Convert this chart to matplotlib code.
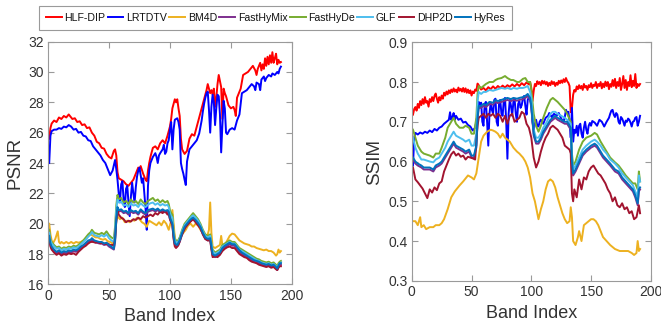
import matplotlib
matplotlib.use("Agg")
import matplotlib.pyplot as plt

plt.rcParams['font.family'] = ['Liberation Sans', 'DejaVu Sans']

methods = ["HLF-DIP", "LRTDTV", "BM4D", "FastHyMix", "FastHyDe", "GLF", "DHP2D", "HyRes"]
colors = ["#FF0000", "#0000FF", "#EDB120", "#7E2F8E", "#77AC30", "#4DBEEE", "#A2142F", "#0072BD"]

# ---------------- PSNR per band ----------------
psnr_hlfdip_band = [1, 2, 3, 5, 7, 9, 11, 13, 15, 17, 18, 20, 22, 24, 26, 28, 30, 32, 34, 36, 38, 40, 42, 44, 46, 48,
                    50, 52, 54, 55, 56, 57, 58, 60, 62, 64, 66, 68, 70, 72, 74, 75, 76, 78, 80, 81, 82, 83, 84, 86, 88,
                    90, 92, 94, 96, 98, 100, 101, 102, 103, 104, 105, 106, 107, 108, 109, 110, 112, 114, 116, 118, 120,
                    122, 124, 126, 128, 130, 131, 132, 133, 134, 135, 136, 137, 138, 139, 140, 141, 142, 143, 144, 145,
                    146, 148, 150, 152, 153, 154, 155, 156, 158, 160, 162, 164, 166, 168, 170, 171, 172, 174, 175, 176,
                    177, 178, 179, 180, 181, 182, 183, 184, 185, 186, 187, 188, 189, 190, 191]
psnr_hlfdip = [25.6, 26.3, 26.6, 26.8, 26.7, 27.0, 26.9, 27.1, 27.0, 27.2, 27.1, 26.9, 26.95, 26.7, 26.75, 26.5, 26.55,
               26.3, 26.35, 26.0, 25.8, 25.4, 25.3, 25.0, 24.95, 24.6, 24.4, 24.3, 24.8, 24.9, 24.5, 23.4, 23.0, 22.9,
               22.8, 22.6, 22.5, 22.7, 22.9, 23.3, 23.7, 23.6, 23.8, 23.3, 22.9, 22.8, 23.5, 24.0, 24.4, 25.0, 25.1,
               24.9, 25.3, 25.5, 25.3, 25.8, 26.4, 26.9, 27.6, 27.9, 28.2, 28.0, 28.2, 27.6, 27.1, 25.6, 24.9, 24.6,
               24.8, 25.6, 25.9, 25.8, 26.4, 27.0, 27.6, 28.2, 28.8, 29.2, 28.9, 28.6, 28.8, 28.5, 28.9, 27.7, 28.3,
               29.2, 29.8, 29.4, 29.0, 26.9, 28.9, 28.6, 28.4, 27.8, 27.6, 27.7, 27.5, 27.1, 28.3, 28.5, 28.9, 29.8,
               29.9, 30.0, 30.2, 30.4, 30.1, 29.8, 30.2, 30.6, 30.1, 30.5, 30.2, 30.9, 30.4, 31.0, 30.5, 31.1, 30.6,
               31.3, 30.6, 30.9, 31.2, 30.5, 30.8, 30.6, 30.65]

psnr_lrtdtv_band = [1, 2, 3, 5, 7, 9, 11, 13, 15, 17, 19, 21, 23, 25, 27, 29, 31, 33, 35, 37, 39, 41, 43, 45, 47, 49,
                    51, 53, 55, 56, 57, 58, 59, 60, 61, 62, 63, 64, 65, 66, 67, 68, 69, 70, 71, 72, 73, 74, 75, 76, 77,
                    78, 79, 80, 81, 82, 83, 84, 86, 88, 89, 90, 91, 92, 94, 95, 96, 97, 98, 99, 100, 101, 102, 103, 104,
                    106, 107, 108, 109, 110, 111, 112, 113, 114, 116, 118, 120, 122, 124, 126, 127, 128, 129, 130, 131,
                    132, 133, 134, 135, 136, 137, 138, 139, 140, 141, 142, 143, 144, 145, 146, 147, 149, 151, 153, 155,
                    157, 159, 161, 163, 165, 167, 169, 170, 171, 173, 174, 175, 177, 178, 179, 181, 183, 184, 186, 188,
                    189, 190, 191]
psnr_lrtdtv = [24.0, 25.8, 26.1, 26.2, 26.2, 26.3, 26.25, 26.4, 26.35, 26.5, 26.4, 26.2, 26.25, 26.0, 26.05, 25.8,
               25.75, 25.5, 25.45, 25.1, 24.9, 24.7, 24.5, 24.2, 24.0, 23.6, 23.2, 23.5, 24.2, 23.6, 22.9, 22.0, 21.4,
               22.6, 22.8, 21.6, 21.1, 22.3, 22.5, 21.4, 20.5, 21.8, 22.7, 22.0, 21.4, 22.4, 23.1, 23.5, 23.7, 23.2,
               22.7, 23.0, 22.0, 21.0, 19.6, 22.5, 23.5, 24.0, 24.4, 24.65, 24.4, 24.0, 24.5, 24.65, 24.9, 25.2, 24.6,
               24.75, 25.3, 25.5, 26.2, 26.7, 24.9, 26.2, 26.85, 26.95, 26.7, 26.2, 24.0, 23.6, 23.3, 22.9, 22.55,
               24.1, 24.9, 25.1, 25.3, 25.5, 25.95, 26.8, 27.4, 27.9, 28.3, 28.6, 28.7, 27.5, 26.0, 27.7, 28.5, 28.0,
               26.5, 27.6, 28.5, 28.4, 27.2, 24.7, 26.5, 28.1, 27.6, 26.0, 25.9, 26.2, 26.3, 26.2, 26.8, 27.2, 28.6,
               28.7, 28.8, 29.0, 29.2, 29.05, 28.8, 29.3, 29.2, 28.8, 29.5, 29.7, 29.4, 29.6, 29.8, 29.7, 29.9, 29.8,
               30.0, 29.9, 30.2, 30.35]

psnr_bm4d_band = [1, 2, 3, 4, 6, 8, 9, 10, 11, 13, 15, 17, 19, 21, 23, 25, 27, 29, 31, 33, 35, 37, 39, 41, 43, 45, 47,
                  49, 51, 53, 54, 55, 56, 57, 59, 61, 63, 65, 67, 69, 71, 73, 75, 77, 79, 81, 83, 85, 87, 89, 91, 93,
                  95, 97, 99, 100, 101, 102, 103, 104, 105, 107, 109, 111, 113, 115, 117, 119, 121, 123, 125, 127,
                  129, 131, 132, 133, 134, 135, 137, 139, 141, 142, 143, 145, 147, 149, 151, 153, 155, 157, 159, 161,
                  163, 165, 167, 169, 171, 173, 175, 177, 179, 181, 183, 185, 187, 188, 189, 190, 191]
psnr_bm4d = [20.0, 19.3, 18.9, 18.7, 19.0, 19.5, 18.8, 18.7, 18.8, 18.7, 18.8, 18.7, 18.8, 18.7, 18.8, 18.75, 18.8,
             18.9, 19.0, 19.2, 19.3, 19.2, 19.1, 19.1, 19.0, 18.95, 19.0, 18.85, 18.8, 18.7, 18.8, 19.4, 20.2, 20.5,
             20.3, 20.4, 20.1, 20.2, 20.1, 20.25, 20.2, 20.4, 20.3, 20.1, 20.0, 19.8, 20.2, 20.1, 20.0, 19.9, 20.1,
             19.9, 20.2, 20.0, 19.6, 19.9, 20.2, 20.9, 20.0, 19.1, 18.8, 18.9, 19.2, 19.4, 19.6, 19.9, 20.0, 19.8,
             20.0, 19.9, 19.6, 19.4, 19.2, 19.3, 19.6, 21.4, 19.4, 18.5, 18.4, 18.5, 18.6, 19.2, 18.6, 18.6, 18.9,
             19.2, 19.35, 19.3, 19.1, 18.9, 18.8, 18.7, 18.65, 18.6, 18.5, 18.5, 18.4, 18.35, 18.3, 18.25, 18.3,
             18.2, 18.2, 18.1, 17.9, 18.0, 18.3, 18.1, 18.2]

cluster_band = [1, 2, 3, 5, 7, 9, 11, 13, 15, 17, 19, 21, 23, 25, 27, 29, 31, 33, 35, 36, 38, 40, 42, 44, 46, 48, 50,
                52, 54, 55, 56, 57, 58, 60, 62, 64, 66, 68, 70, 72, 74, 76, 78, 80, 82, 84, 86, 88, 90, 92, 94, 96, 98,
                99, 100, 101, 102, 103, 104, 106, 108, 110, 112, 114, 116, 118, 119, 121, 123, 125, 127, 129, 131, 133,
                134, 135, 137, 139, 141, 143, 145, 147, 149, 151, 153, 155, 157, 159, 161, 163, 165, 167, 169, 171,
                173, 175, 177, 179, 181, 183, 185, 187, 188, 189, 190, 191]
psnr_fasthyde = [19.6, 19.0, 18.8, 18.6, 18.45, 18.5, 18.35, 18.45, 18.4, 18.5, 18.45, 18.55, 18.5, 18.6, 18.75, 18.9,
                 19.1, 19.3, 19.45, 19.6, 19.4, 19.35, 19.3, 19.4, 19.3, 19.5, 19.25, 19.1, 19.0, 19.8, 21.2, 21.9,
                 21.6, 21.7, 21.4, 21.5, 21.3, 21.6, 21.4, 21.5, 21.3, 21.6, 21.4, 21.3, 21.5, 21.6, 21.7, 21.5, 21.6,
                 21.4, 21.55, 21.4, 21.5, 21.3, 20.9, 20.7, 20.6, 19.6, 19.0, 18.8, 19.1, 19.6, 20.0, 20.2, 20.4, 20.6,
                 20.7, 20.5, 20.3, 20.0, 19.6, 19.3, 19.2, 19.3, 18.8, 18.3, 18.1, 18.2, 18.3, 18.6, 18.7, 18.8, 18.9,
                 18.8, 18.8, 18.6, 18.4, 18.3, 18.2, 18.1, 18.0, 17.9, 17.8, 17.7, 17.65, 17.55, 17.5, 17.45, 17.5,
                 17.4, 17.45, 17.3, 17.2, 17.4, 17.5, 17.55]
psnr_glf = [19.4, 18.9, 18.7, 18.5, 18.35, 18.4, 18.25, 18.35, 18.3, 18.4, 18.35, 18.45, 18.4, 18.5, 18.65, 18.8,
            18.95, 19.15, 19.3, 19.45, 19.25, 19.2, 19.15, 19.25, 19.15, 19.3, 19.05, 18.9, 18.8, 19.5, 20.9, 21.6,
            21.4, 21.45, 21.2, 21.25, 21.1, 21.35, 21.2, 21.25, 21.1, 21.35, 21.2, 21.1, 21.25, 21.35, 21.4, 21.25,
            21.35, 21.2, 21.3, 21.2, 21.25, 21.1, 20.7, 20.5, 20.4, 19.4, 18.9, 18.7, 19.0, 19.5, 19.9, 20.1, 20.3,
            20.5, 20.55, 20.4, 20.2, 19.9, 19.5, 19.2, 19.1, 19.2, 18.7, 18.2, 18.0, 18.1, 18.2, 18.5, 18.6, 18.7,
            18.8, 18.7, 18.7, 18.5, 18.3, 18.2, 18.1, 18.0, 17.9, 17.8, 17.7, 17.6, 17.55, 17.45, 17.4, 17.35, 17.4,
            17.3, 17.35, 17.2, 17.1, 17.3, 17.4, 17.45]
psnr_hyres = [19.2, 18.7, 18.5, 18.3, 18.15, 18.25, 18.1, 18.2, 18.15, 18.25, 18.2, 18.3, 18.25, 18.35, 18.5, 18.6,
              18.75, 18.9, 18.95, 19.05, 18.9, 18.85, 18.8, 18.8, 18.7, 18.75, 18.6, 18.5, 18.35, 18.9, 20.3, 21.1,
              20.9, 20.95, 20.8, 20.85, 20.7, 20.9, 20.8, 20.85, 20.7, 20.95, 20.8, 20.7, 20.9, 20.95, 21.0, 20.9,
              21.0, 20.85, 20.95, 20.85, 20.9, 20.8, 20.4, 20.2, 20.0, 19.2, 18.7, 18.6, 18.9, 19.4, 19.8, 20.0, 20.2,
              20.35, 20.4, 20.25, 20.05, 19.8, 19.4, 19.1, 19.0, 19.05, 18.5, 18.0, 17.9, 18.0, 18.1, 18.4, 18.55,
              18.65, 18.75, 18.65, 18.65, 18.45, 18.25, 18.1, 18.0, 17.9, 17.8, 17.7, 17.6, 17.55, 17.5, 17.4, 17.35,
              17.3, 17.35, 17.25, 17.3, 17.15, 17.05, 17.25, 17.4, 17.4]
psnr_fasthymix = [19.1, 18.6, 18.4, 18.2, 18.05, 18.15, 18.0, 18.1, 18.05, 18.15, 18.1, 18.2, 18.15, 18.25, 18.4,
                  18.5, 18.65, 18.8, 18.85, 18.95, 18.8, 18.75, 18.7, 18.7, 18.6, 18.65, 18.5, 18.4, 18.3, 18.8, 20.2,
                  21.0, 20.8, 20.85, 20.7, 20.75, 20.6, 20.8, 20.7, 20.75, 20.6, 20.85, 20.7, 20.6, 20.8, 20.85, 20.9,
                  20.8, 20.9, 20.75, 20.85, 20.75, 20.8, 20.7, 20.3, 20.1, 19.9, 19.1, 18.6, 18.5, 18.8, 19.3, 19.7,
                  19.9, 20.1, 20.25, 20.3, 20.15, 19.95, 19.7, 19.3, 19.0, 18.9, 18.95, 18.4, 17.9, 17.8, 17.9, 18.0,
                  18.3, 18.45, 18.55, 18.65, 18.55, 18.55, 18.35, 18.15, 18.0, 17.9, 17.8, 17.7, 17.6, 17.5, 17.45,
                  17.4, 17.3, 17.25, 17.2, 17.25, 17.15, 17.2, 17.05, 16.95, 17.15, 17.3, 17.3]

psnr_dhp2d_band = [1, 2, 3, 5, 7, 9, 11, 13, 15, 17, 19, 21, 23, 25, 27, 29, 31, 33, 35, 37, 39, 41, 43, 45, 47, 49, 51,
                   53, 54, 55, 56, 57, 58, 60, 62, 64, 66, 68, 70, 72, 74, 76, 78, 80, 82, 84, 86, 88, 90, 92, 94, 96,
                   98, 99, 100, 101, 102, 103, 104, 105, 107, 109, 111, 113, 115, 117, 119, 121, 123, 125, 127, 129,
                   131, 133, 134, 135, 137, 139, 141, 143, 145, 147, 149, 151, 153, 155, 157, 159, 161, 163, 165, 167,
                   169, 171, 173, 175, 177, 179, 181, 183, 185, 187, 188, 189, 190, 191]
psnr_dhp2d = [19.0, 18.5, 18.3, 18.1, 17.95, 18.05, 17.9, 18.0, 17.95, 18.05, 18.0, 18.05, 17.95, 18.15, 18.3, 18.45,
              18.55, 18.7, 18.8, 18.8, 18.75, 18.8, 18.7, 18.75, 18.65, 18.7, 18.6, 18.6, 18.6, 19.0, 20.2, 20.9, 20.6,
              20.4, 20.3, 20.1, 20.2, 20.15, 20.3, 20.25, 20.4, 20.3, 20.5, 20.4, 20.5, 20.6, 20.5, 20.7, 20.6, 20.8,
              20.7, 20.85, 20.6, 20.7, 20.3, 20.1, 19.9, 19.0, 18.5, 18.4, 18.6, 19.1, 19.5, 19.8, 20.0, 20.15, 20.3,
              20.1, 19.9, 19.7, 19.3, 19.0, 18.9, 18.9, 18.3, 17.8, 17.85, 17.8, 17.95, 18.2, 18.35, 18.45, 18.5, 18.4,
              18.4, 18.2, 18.0, 17.9, 17.8, 17.75, 17.6, 17.5, 17.45, 17.4, 17.3, 17.25, 17.2, 17.15, 17.2, 17.1,
              17.15, 17.0, 16.95, 17.1, 17.2, 17.2]

# ---------------- SSIM per band ----------------
ssim_hlfdip_band = list(range(1, 59)) + list(range(60, 99, 2)) + list(range(99, 192))
ssim_hlfdip = [0.718, 0.732, 0.737, 0.728, 0.745, 0.735, 0.752, 0.742, 0.757, 0.745, 0.762, 0.748, 0.752, 0.738,
               0.757, 0.75, 0.762, 0.752, 0.765, 0.771, 0.758, 0.748, 0.762, 0.754, 0.766, 0.758, 0.773, 0.766, 0.776,
               0.769, 0.779, 0.772, 0.781, 0.775, 0.784, 0.776, 0.781, 0.774, 0.786, 0.778, 0.783, 0.776, 0.785,
               0.775, 0.784, 0.773, 0.781, 0.772, 0.779, 0.766, 0.776, 0.772, 0.781, 0.778, 0.796, 0.792, 0.786,
               0.781,
               0.785, 0.779, 0.787, 0.782, 0.789, 0.783, 0.79, 0.785, 0.791, 0.786, 0.792, 0.788, 0.794, 0.789, 0.795,
               0.79, 0.797, 0.792, 0.799, 0.794,
               0.8, 0.785, 0.752, 0.778, 0.795, 0.79, 0.802, 0.795, 0.8, 0.792, 0.803, 0.796, 0.802, 0.794, 0.8, 0.79,
               0.798, 0.792, 0.802, 0.795, 0.8, 0.79, 0.798, 0.793, 0.803, 0.797, 0.804, 0.798, 0.807, 0.8, 0.81,
               0.802, 0.798, 0.79, 0.724, 0.735, 0.768, 0.78, 0.776, 0.789, 0.782, 0.792, 0.784, 0.79, 0.78, 0.795,
               0.786, 0.79, 0.78, 0.792, 0.787, 0.797, 0.785, 0.793, 0.79, 0.8, 0.785, 0.795, 0.79, 0.8, 0.784, 0.796,
               0.787, 0.801, 0.79, 0.8, 0.782, 0.795, 0.788, 0.805, 0.79, 0.808, 0.785, 0.8, 0.79, 0.81, 0.78, 0.795,
               0.815, 0.785, 0.805, 0.78, 0.8, 0.79, 0.817, 0.787, 0.803, 0.79, 0.82, 0.785, 0.795, 0.79, 0.795]

ssim_lrtdtv_band = [1, 2, 3, 5, 7, 9, 11, 13, 15, 17, 19, 21, 23, 25, 27, 29, 31, 32, 33, 34, 35, 36, 37, 39, 41, 43,
                    45, 47, 49, 51, 53, 54, 55] + list(range(56, 109)) + [110, 112, 114, 115, 117, 119, 121, 123, 125,
                    127] + list(range(128, 152)) + [153, 155, 157, 159, 161, 163, 165] + list(range(166, 192))
ssim_lrtdtv = [0.59, 0.66, 0.672, 0.668, 0.673, 0.67, 0.675, 0.672, 0.678, 0.674, 0.682, 0.678, 0.685, 0.688, 0.695,
               0.70, 0.705, 0.724, 0.705, 0.712, 0.722, 0.705, 0.715, 0.705, 0.708, 0.698, 0.70, 0.692, 0.688, 0.678,
               0.685, 0.70, 0.72,
               0.75, 0.74, 0.748, 0.70, 0.69, 0.745, 0.75, 0.70, 0.64, 0.72, 0.748, 0.73, 0.72, 0.755, 0.758, 0.70,
               0.69, 0.745, 0.755, 0.72, 0.715, 0.755, 0.76, 0.70, 0.607, 0.72, 0.755, 0.74, 0.715, 0.75, 0.758, 0.72,
               0.70, 0.745, 0.752, 0.735, 0.742, 0.76, 0.765, 0.74, 0.718, 0.755, 0.762, 0.755, 0.745, 0.70, 0.68,
               0.695, 0.705, 0.69, 0.688, 0.70, 0.705,
               0.695, 0.71, 0.715, 0.722, 0.712, 0.72, 0.715, 0.722, 0.708, 0.70,
               0.712, 0.73, 0.722, 0.725, 0.70, 0.66, 0.735, 0.65, 0.68, 0.672, 0.69, 0.665, 0.69, 0.695, 0.67, 0.66,
               0.685, 0.70, 0.68, 0.67, 0.69, 0.697, 0.69, 0.702,
               0.698, 0.69, 0.705, 0.70, 0.688, 0.70, 0.71,
               0.72, 0.728, 0.73, 0.718, 0.712, 0.722, 0.718, 0.70, 0.695, 0.712, 0.708, 0.70, 0.69, 0.703, 0.70,
               0.708, 0.705, 0.698, 0.688, 0.70, 0.702, 0.71, 0.712, 0.69, 0.70, 0.715]

ssim_bm4d_band = [1, 3, 5, 7, 8, 10, 12, 15, 18, 20, 23, 25, 27, 30, 33, 36, 40, 43, 47, 50, 52, 54, 56, 58, 60, 63, 66,
                  68, 70, 72, 74, 76, 78, 80, 82, 85, 88, 90, 93, 95, 97, 99, 101, 103, 105, 106, 108, 110, 112, 114,
                  116, 118, 120, 122, 124, 126, 128, 130, 132, 133, 134, 135, 137, 139, 140, 142, 144, 146, 148, 150,
                  152, 154, 156, 158, 160, 163, 166, 170, 174, 178, 181, 184, 186, 188, 189, 190, 191]
ssim_bm4d = [0.45, 0.45, 0.44, 0.46, 0.435, 0.44, 0.43, 0.435, 0.435, 0.44, 0.44, 0.445, 0.455, 0.48, 0.51, 0.525,
             0.54, 0.55, 0.565, 0.56, 0.555, 0.57, 0.61, 0.65, 0.665, 0.675, 0.68, 0.678, 0.675, 0.67, 0.66, 0.67,
             0.66, 0.655, 0.65, 0.635, 0.625, 0.62, 0.61, 0.60, 0.585, 0.56, 0.52, 0.50, 0.47, 0.455, 0.48, 0.50, 0.53,
             0.55, 0.555, 0.55, 0.535, 0.51, 0.49, 0.47, 0.455, 0.445, 0.45, 0.485, 0.46, 0.40, 0.39, 0.41, 0.425,
             0.40, 0.44, 0.445, 0.45, 0.455, 0.455, 0.45, 0.44, 0.425, 0.41, 0.40, 0.39, 0.38, 0.375, 0.375, 0.375,
             0.37, 0.365, 0.37, 0.40, 0.375, 0.38]

ssim_cluster_band = [1, 3, 5, 8, 10, 15, 18, 20, 23, 25, 28, 30, 33, 35, 37, 40, 43, 45, 48, 50, 52, 54, 55, 56, 58, 60,
                     62, 65, 68, 70, 72, 75, 78, 80, 83, 85, 88, 90, 93, 95, 97, 99, 100, 102, 104, 106, 108, 110, 113,
                     116, 118, 120, 122, 125, 128, 130, 133, 134, 135, 137, 140, 143, 146, 150, 153, 155, 158, 160, 163,
                     166, 170, 173, 176, 179, 182, 185, 187, 189, 190, 191]
ssim_fasthyde = [0.68, 0.66, 0.64, 0.625, 0.62, 0.615, 0.61, 0.62, 0.62, 0.635, 0.66, 0.685, 0.70, 0.71, 0.695, 0.685,
                 0.685, 0.69, 0.685, 0.67, 0.67, 0.71, 0.77, 0.79, 0.785, 0.79, 0.795, 0.80, 0.80, 0.805, 0.808, 0.81,
                 0.815, 0.81, 0.805, 0.805, 0.80, 0.80, 0.808, 0.81, 0.80, 0.80, 0.78, 0.72, 0.69, 0.675, 0.69, 0.71,
                 0.735, 0.755, 0.76, 0.755, 0.75, 0.74, 0.73, 0.72, 0.70, 0.62, 0.59, 0.60, 0.63, 0.65, 0.66, 0.665,
                 0.672, 0.668, 0.65, 0.64, 0.625, 0.61, 0.598, 0.59, 0.578, 0.565, 0.555, 0.545, 0.545, 0.53, 0.575,
                 0.55]
ssim_glf = [0.66, 0.635, 0.62, 0.605, 0.605, 0.60, 0.598, 0.605, 0.61, 0.62, 0.635, 0.65, 0.665, 0.675, 0.665, 0.66,
            0.655, 0.65, 0.655, 0.64, 0.64, 0.67, 0.75, 0.775, 0.77, 0.775, 0.775, 0.78, 0.778, 0.78, 0.782, 0.785,
            0.783, 0.785, 0.782, 0.785, 0.783, 0.785, 0.785, 0.787, 0.79, 0.775, 0.76, 0.68, 0.66, 0.66, 0.67, 0.685,
            0.70, 0.72, 0.725, 0.725, 0.72, 0.715, 0.71, 0.705, 0.695, 0.61, 0.58, 0.59, 0.61, 0.63, 0.64, 0.65,
            0.655, 0.65, 0.64, 0.63, 0.62, 0.605, 0.595, 0.585, 0.57, 0.56, 0.55, 0.54, 0.525, 0.51, 0.565, 0.55]
ssim_hyres = [0.61, 0.60, 0.595, 0.59, 0.585, 0.585, 0.58, 0.59, 0.595, 0.60, 0.615, 0.625, 0.64, 0.65, 0.64, 0.635,
              0.63, 0.625, 0.63, 0.615, 0.615, 0.64, 0.71, 0.74, 0.74, 0.745, 0.742, 0.75, 0.748, 0.755, 0.752, 0.755,
              0.758, 0.76, 0.757, 0.76, 0.758, 0.76, 0.762, 0.765, 0.77, 0.76, 0.74, 0.67, 0.65, 0.65, 0.66, 0.675,
              0.69, 0.705, 0.71, 0.715, 0.71, 0.705, 0.70, 0.70, 0.685, 0.60, 0.57, 0.58, 0.60, 0.62, 0.63, 0.64,
              0.645, 0.64, 0.625, 0.615, 0.605, 0.595, 0.58, 0.575, 0.56, 0.55, 0.54, 0.53, 0.515, 0.495, 0.53, 0.535]
ssim_fasthymix = [0.605, 0.595, 0.59, 0.585, 0.58, 0.58, 0.575, 0.585, 0.59, 0.595, 0.61, 0.62, 0.635, 0.645, 0.635,
                  0.63, 0.625, 0.62, 0.625, 0.61, 0.61, 0.635, 0.705, 0.735, 0.735, 0.74, 0.737, 0.745, 0.743, 0.75,
                  0.747, 0.75, 0.753, 0.755, 0.752, 0.755, 0.753, 0.755, 0.757, 0.76, 0.765, 0.755, 0.735, 0.665,
                  0.645, 0.645, 0.655, 0.67, 0.685, 0.70, 0.705, 0.71, 0.705, 0.70, 0.695, 0.695, 0.68, 0.595, 0.565,
                  0.575, 0.595, 0.615, 0.625, 0.635, 0.64, 0.635, 0.62, 0.61, 0.60, 0.59, 0.575, 0.57, 0.555, 0.545,
                  0.535, 0.525, 0.51, 0.49, 0.525, 0.53]

ssim_dhp2d_band = list(range(1, 55, 2)) + [54, 55, 56] + list(range(58, 134, 2)) + [133, 134, 135, 136] + \
    list(range(138, 192, 2)) + [191]
ssim_dhp2d = [0.585, 0.555, 0.548, 0.54, 0.532, 0.52, 0.508, 0.53, 0.522, 0.535, 0.528, 0.545, 0.55, 0.575, 0.59,
              0.605, 0.618, 0.625, 0.615, 0.62, 0.612, 0.615, 0.605, 0.612, 0.61, 0.608, 0.605,
              0.65, 0.69, 0.71,
              0.715, 0.72, 0.71, 0.72, 0.715, 0.72, 0.71, 0.72, 0.715, 0.70, 0.715, 0.695, 0.715, 0.72, 0.70, 0.705,
              0.71, 0.725, 0.72, 0.695, 0.685, 0.66, 0.61, 0.585, 0.60, 0.625, 0.645, 0.66, 0.67, 0.685, 0.69, 0.685,
              0.68, 0.67, 0.66, 0.64, 0.635, 0.63,
              0.62, 0.52, 0.50, 0.53,
              0.51, 0.555, 0.53, 0.56, 0.555, 0.575, 0.585, 0.59, 0.58, 0.57, 0.565, 0.555, 0.545, 0.53, 0.52, 0.50,
              0.51, 0.49, 0.485, 0.495, 0.48, 0.485, 0.47, 0.475, 0.455, 0.46, 0.49,
              0.47]

psnr_series = [
    (psnr_hlfdip_band, psnr_hlfdip),
    (psnr_lrtdtv_band, psnr_lrtdtv),
    (psnr_bm4d_band, psnr_bm4d),
    (cluster_band, psnr_fasthymix),
    (cluster_band, psnr_fasthyde),
    (cluster_band, psnr_glf),
    (psnr_dhp2d_band, psnr_dhp2d),
    (cluster_band, psnr_hyres),
]
ssim_series = [
    (ssim_hlfdip_band, ssim_hlfdip),
    (ssim_lrtdtv_band, ssim_lrtdtv),
    (ssim_bm4d_band, ssim_bm4d),
    (ssim_cluster_band, ssim_fasthymix),
    (ssim_cluster_band, ssim_fasthyde),
    (ssim_cluster_band, ssim_glf),
    (ssim_dhp2d_band, ssim_dhp2d),
    (ssim_cluster_band, ssim_hyres),
]

fig = plt.figure(figsize=(6.61, 3.30), dpi=100)
ax1 = fig.add_axes([0.0726, 0.138, 0.369, 0.736])
ax2 = fig.add_axes([0.623, 0.149, 0.3616, 0.723])

text_color = "#333333"
frame_color = "#9a9a9a"

handles = []
for ax, series in ((ax1, psnr_series), (ax2, ssim_series)):
    for (band, vals), name, col in zip(series, methods, colors):
        ln, = ax.plot(band, vals, color=col, lw=1.4, label=name)
        if ax is ax1:
            handles.append(ln)
    ax.set_xlim(0, 200)
    ax.set_xticks([0, 50, 100, 150, 200])
    for sp in ax.spines.values():
        sp.set_color(frame_color)
        sp.set_linewidth(0.8)
    ax.tick_params(direction="in", length=4, width=0.8, colors=frame_color, labelcolor=text_color,
                   labelsize=10, top=True, right=True, pad=3)
    ax.set_xlabel("Band Index", fontsize=13, color=text_color, labelpad=4)

ax1.set_ylim(16, 32)
ax1.set_yticks(range(16, 33, 2))
ax1.set_ylabel("PSNR", fontsize=13.5, color=text_color, labelpad=3)

ax2.set_ylim(0.3, 0.9)
ax2.set_yticks([0.3, 0.4, 0.5, 0.6, 0.7, 0.8, 0.9])
ax2.set_yticklabels(["0.3", "0.4", "0.5", "0.6", "0.7", "0.8", "0.9"])
ax2.set_ylabel("SSIM", fontsize=13.5, color=text_color, labelpad=4)

leg = fig.legend(handles=handles, labels=methods, loc="center", bbox_to_anchor=(0.4168, 0.945), ncol=8,
                 fontsize=7.6, handlelength=1.5, handletextpad=0.25, columnspacing=0.22, borderpad=0.65,
                 borderaxespad=0.0, frameon=True, fancybox=False, edgecolor=frame_color, framealpha=1)
leg.get_frame().set_linewidth(0.8)
for t in leg.get_texts():
    t.set_color("#111111")

fig.savefig("out.png", dpi=100)
